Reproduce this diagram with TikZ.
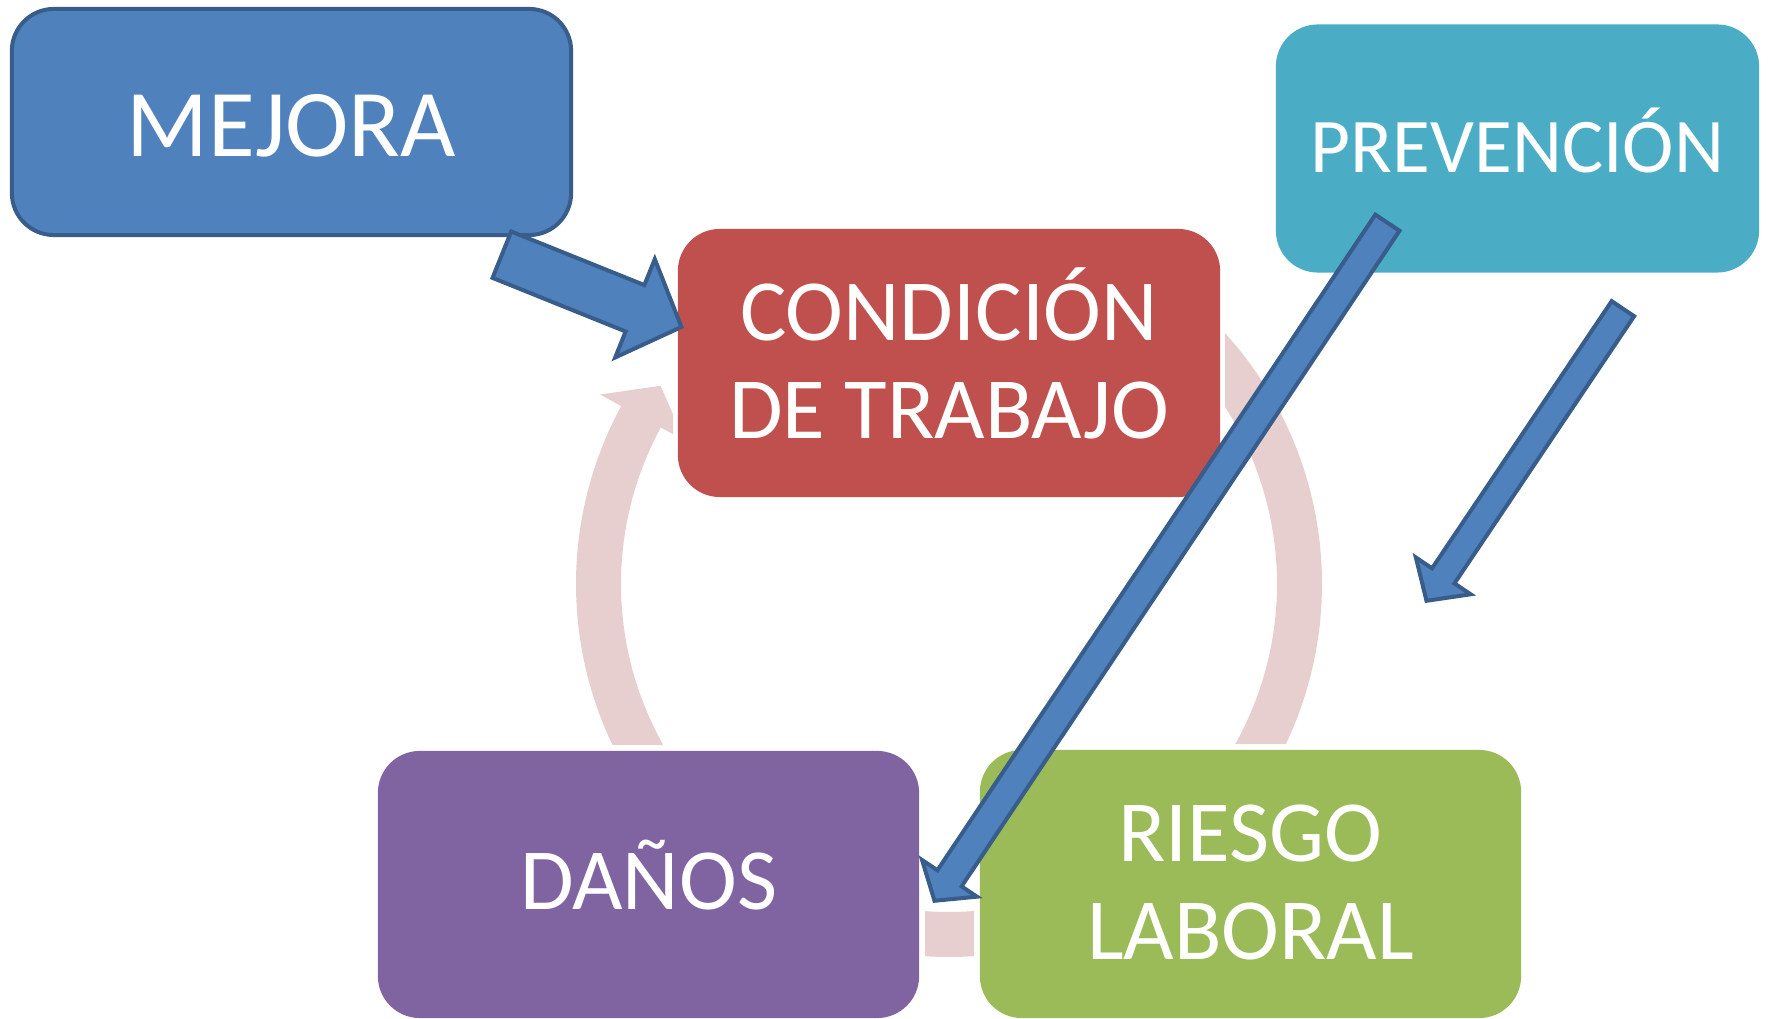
\documentclass[tikz,border=0pt]{standalone}
\usepackage{fontspec}
\setmainfont{Carlito}
\usetikzlibrary{calc}
\definecolor{cBlue}{HTML}{4F81BD}
\definecolor{cBlueDk}{HTML}{385D8A}
\definecolor{cRed}{HTML}{C0504D}
\definecolor{cCyan}{HTML}{4BACC6}
\definecolor{cPurple}{HTML}{8064A2}
\definecolor{cGreen}{HTML}{9BBB59}
\definecolor{cPink}{HTML}{E7CFD0}
% #1 name, #2 tail, #3 tip, #4 shaft half width, #5 head half width, #6 head length
\newcommand\blockarrow[6]{%
  \coordinate (#1q) at ($(#3)!#6!(#2)$);
  \filldraw[barrow] ($(#2)!#4!90:(#3)$) -- ($(#1q)!#4!-90:(#2)$) -- ($(#1q)!#5!-90:(#2)$)
    -- (#3) -- ($(#1q)!#5!90:(#2)$) -- ($(#1q)!#4!90:(#2)$) -- ($(#2)!#4!-90:(#3)$) -- cycle;}
\begin{document}
\begin{tikzpicture}[x=0.01cm,y=-0.01cm,
  box/.style={rectangle, rounded corners=0.42cm, inner sep=0pt},
  txt/.style={text=white, align=center, inner sep=0pt, font=\fontsize{24.8}{28}\selectfont},
  barrow/.style={fill=cBlue, draw=cBlueDk, line width=0.04cm, line join=miter},
  ring/.style={fill=cPink}]
\useasboundingbox (0,0) rectangle (1768,1019);

% cycle ring segments
\begin{scope}
  \clip (0,0) rectangle (673,745);
  \fill[ring, shift={(949,584)}] (208.5:373) -- (208.5:397) -- (214.5:350) -- (208.5:301) -- (208.5:328)
    arc[start angle=208.5, end angle=150, radius=328] -- (150:373)
    arc[start angle=150, end angle=208.5, radius=373] -- cycle;
\end{scope}
\begin{scope}
  \clip (1225,0) rectangle (1768,744);
  \fill[ring, shift={(949,584)}] (-70:373) arc[start angle=-70, end angle=40, radius=373]
    -- (40:328) arc[start angle=40, end angle=-70, radius=328] -- cycle;
\end{scope}
\begin{scope}
  \clip (925,0) rectangle (974,1019);
  \fill[ring, shift={(949,584)}] (60:373) arc[start angle=60, end angle=120, radius=373]
    -- (120:328) arc[start angle=120, end angle=60, radius=328] -- cycle;
\end{scope}

% boxes
\node[box, fill=cBlue, draw=cBlueDk, line width=0.04cm, minimum width=5.59cm, minimum height=2.26cm] (mejora) at (291.5,122) {};
\node[box, fill=cRed, minimum width=5.42cm, minimum height=2.68cm] (cond) at (949,363) {};
\node[box, fill=cCyan, minimum width=4.83cm, minimum height=2.48cm] (prev) at (1517.5,148.5) {};
\node[box, fill=cPurple, minimum width=5.41cm, minimum height=2.67cm] (danos) at (648.5,884.5) {};
\node[box, fill=cGreen, minimum width=5.41cm, minimum height=2.68cm] (riesgo) at (1250.5,884) {};

% texts
\node[txt, font=\fontsize{27.2}{30}\selectfont] (mejora-t) at ([yshift=-0.04cm]mejora.center) {MEJORA};
\node[txt] (cond-t) at ([yshift=0.096cm]cond.center) {CONDICIÓN\\DE TRABAJO};
\node[txt, font=\fontsize{22}{26}\selectfont] (prev-t) at ([yshift=0.085cm]prev.center) {PREVENCIÓN};
\node[txt] (danos-t) at ([yshift=0.096cm]danos.center) {DAÑOS};
\node[txt] (riesgo-t) at ([yshift=0.015cm]riesgo.center) {RIESGO\\LABORAL};

% block arrows
\coordinate (a1s) at (501.9,254.7);  \coordinate (a1e) at (681.4,327);
\coordinate (a2s) at (1387.4,222.7); \coordinate (a2e) at (934.5,900.8);
\coordinate (a3s) at (1622.9,308.7); \coordinate (a3e) at (1426.5,600.8);
\blockarrow{a1}{a1s}{a1e}{0.25cm}{0.53cm}{0.50cm}
\blockarrow{a2}{a2s}{a2e}{0.145cm}{0.33cm}{0.27cm}
\blockarrow{a3}{a3s}{a3e}{0.135cm}{0.33cm}{0.30cm}
\end{tikzpicture}
\end{document}
